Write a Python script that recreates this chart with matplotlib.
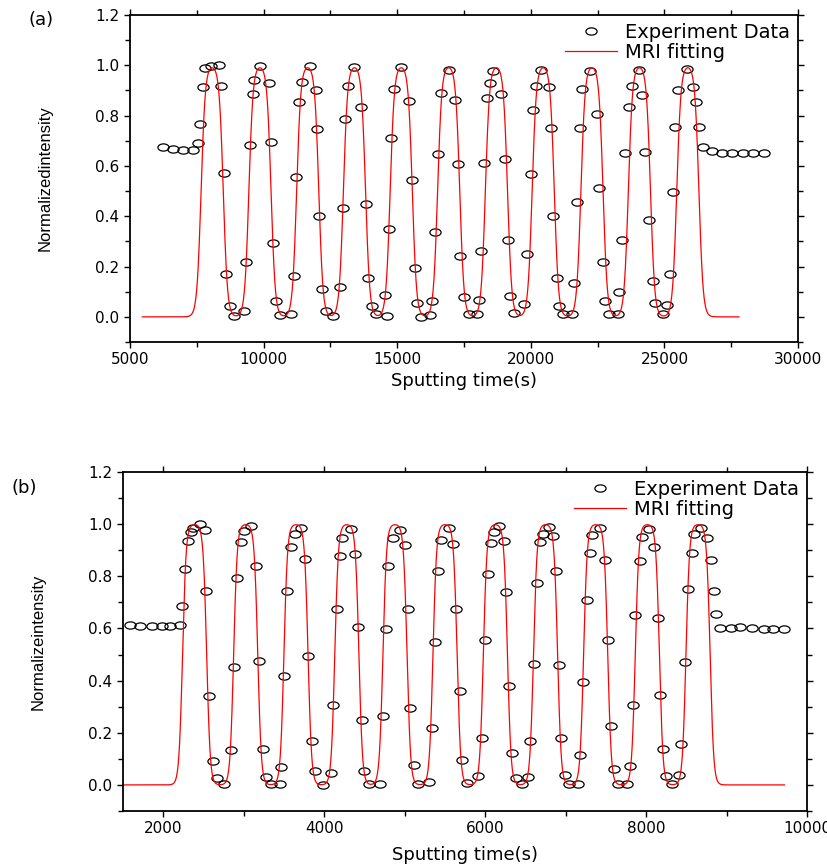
import numpy as np
import matplotlib
matplotlib.use("Agg")
import matplotlib.pyplot as plt
from matplotlib.markers import MarkerStyle
from matplotlib.transforms import Affine2D
from matplotlib.ticker import MultipleLocator, FormatStrFormatter

# (a) experiment data
a_time = [6250, 6625, 6975, 7375, 7550, 7638, 7738, 7813, 8038, 8325, 8413, 8500, 8600,
          8725, 8900, 9275, 9350, 9500, 9588, 9650, 9863, 10188, 10275, 10363, 10450, 10600,
          11025, 11125, 11213, 11313, 11450, 11725, 11963, 11988, 12075, 12175, 12350, 12613,
          12850, 12975, 13050, 13175, 13400, 13663, 13813, 13913, 14038, 14213, 14550, 14625,
          14688, 14775, 14875, 15125, 15425, 15550, 15650, 15738, 15900, 16213, 16313, 16413,
          16525, 16650, 16925, 17150, 17288, 17338, 17500, 17688, 17975, 18063, 18150, 18250,
          18350, 18475, 18600, 18875, 19025, 19150, 19225, 19375, 19750, 19850, 20000, 20088,
          20175, 20388, 20663, 20763, 20838, 20975, 21063, 21188, 21525, 21625, 21725, 21838,
          21913, 22200, 22475, 22563, 22700, 22788, 22925, 23250, 23313, 23425, 23538, 23688,
          23788, 24038, 24163, 24288, 24438, 24563, 24650, 24950, 25113, 25200, 25338, 25413,
          25513, 25838, 26075, 26163, 26288, 26425, 26763, 27150, 27538, 27938, 28313, 28713]
a_intensity = [0.675, 0.669, 0.665, 0.664, 0.693, 0.768, 0.915, 0.988, 0.997, 1.000, 0.916, 0.572, 0.170,
               0.045, 0.005, 0.023, 0.218, 0.684, 0.884, 0.942, 0.999, 0.931, 0.697, 0.293, 0.064, 0.009,
               0.011, 0.163, 0.556, 0.853, 0.935, 0.997, 0.902, 0.746, 0.400, 0.110, 0.025, 0.004,
               0.120, 0.434, 0.788, 0.919, 0.993, 0.833, 0.449, 0.154, 0.045, 0.012, 0.086, 0.005,
               0.349, 0.713, 0.906, 0.995, 0.858, 0.543, 0.194, 0.054, 0.000, 0.007, 0.064, 0.336,
               0.649, 0.890, 0.980, 0.861, 0.607, 0.240, 0.078, 0.013, 0.013, 0.066, 0.263, 0.610,
               0.869, 0.930, 0.976, 0.884, 0.629, 0.304, 0.084, 0.016, 0.052, 0.250, 0.566, 0.822,
               0.918, 0.983, 0.912, 0.749, 0.400, 0.154, 0.044, 0.013, 0.013, 0.133, 0.457, 0.749,
               0.907, 0.979, 0.807, 0.514, 0.220, 0.065, 0.013, 0.013, 0.098, 0.304, 0.651, 0.833,
               0.919, 0.983, 0.883, 0.657, 0.386, 0.142, 0.057, 0.012, 0.049, 0.170, 0.495, 0.754,
               0.903, 0.984, 0.915, 0.855, 0.756, 0.677, 0.660, 0.652, 0.652, 0.652, 0.652, 0.652]

# (a) MRI fit: layer centres, layer width, edge width, time range
a_peaks = [8075, 9863, 11650, 13400, 15150, 16925, 18713, 20463, 22288, 24063, 25875]
a_width, a_edge = 830, 78
a_range = (5460, 27790)

# (b) experiment data
b_time = [1585, 1710, 1855, 1979, 2083, 2203, 2228, 2270, 2311, 2340, 2373, 2452, 2519, 2535,
          2573, 2618, 2664, 2755, 2842, 2884, 2921, 2971, 3000, 3091, 3149, 3195, 3236, 3278,
          3336, 3456, 3469, 3498, 3539, 3590, 3634, 3709, 3763, 3805, 3846, 3884, 3988, 4091,
          4112, 4154, 4191, 4224, 4328, 4386, 4415, 4465, 4498, 4556, 4697, 4730, 4763, 4797,
          4851, 4947, 5004, 5037, 5066, 5112, 5170, 5299, 5336, 5377, 5415, 5456, 5547, 5605,
          5639, 5684, 5709, 5775, 5916, 5958, 5999, 6033, 6074, 6108, 6178, 6232, 6261, 6303,
          6340, 6386, 6461, 6531, 6564, 6610, 6651, 6684, 6717, 6788, 6842, 6875, 6913, 6946,
          6988, 7037, 7149, 7182, 7220, 7261, 7299, 7332, 7423, 7494, 7527, 7569, 7602, 7652,
          7764, 7797, 7840, 7865, 7921, 7950, 8037, 8100, 8150, 8179, 8212, 8245, 8328, 8411,
          8440, 8490, 8523, 8565, 8594, 8685, 8760, 8802, 8839, 8872, 8918, 9055, 9167, 9321,
          9462, 9582, 9719]
b_intensity = [0.613, 0.611, 0.610, 0.609, 0.610, 0.613, 0.685, 0.827, 0.934, 0.968, 0.986, 1.000, 0.977, 0.742,
               0.340, 0.092, 0.028, 0.003, 0.132, 0.454, 0.794, 0.932, 0.973, 0.992, 0.838, 0.476, 0.136, 0.031,
               0.003, 0.003, 0.070, 0.416, 0.742, 0.912, 0.964, 0.986, 0.868, 0.494, 0.170, 0.054, 0.000, 0.047,
               0.308, 0.676, 0.876, 0.948, 0.982, 0.886, 0.607, 0.248, 0.052, 0.003, 0.005, 0.266, 0.597, 0.838,
               0.948, 0.977, 0.919, 0.674, 0.295, 0.075, 0.005, 0.010, 0.217, 0.547, 0.820, 0.941, 0.986, 0.922,
               0.676, 0.359, 0.097, 0.008, 0.033, 0.180, 0.555, 0.809, 0.926, 0.971, 0.992, 0.935, 0.741, 0.378,
               0.121, 0.027, 0.005, 0.031, 0.168, 0.465, 0.773, 0.932, 0.964, 0.989, 0.953, 0.822, 0.459, 0.180,
               0.037, 0.005, 0.005, 0.116, 0.393, 0.708, 0.889, 0.958, 0.987, 0.861, 0.555, 0.226, 0.061, 0.005,
               0.005, 0.072, 0.306, 0.653, 0.858, 0.951, 0.982, 0.913, 0.642, 0.345, 0.136, 0.033, 0.005, 0.037,
               0.156, 0.471, 0.752, 0.889, 0.961, 0.987, 0.948, 0.861, 0.742, 0.654, 0.601, 0.601, 0.606, 0.601,
               0.598, 0.596, 0.598]

b_peaks = [2390, 3025, 3650, 4282, 4880, 5502, 6128, 6751, 7374, 8016, 8646]
b_width, b_edge = 300, 22
b_range = (1500, 9720)


def mri_curve(t, peaks, width, edge):
    # each layer = box of given width smeared by a logistic edge
    y = np.zeros_like(t)
    for c in peaks:
        y += 1 / (1 + np.exp(-(t - c + width / 2) / edge)) - 1 / (1 + np.exp(-(t - c - width / 2) / edge))
    return y


ring = MarkerStyle('o', fillstyle='none', transform=Affine2D().scale(1.55, 1.0))

fig = plt.figure(figsize=(8.27, 8.67), dpi=100)
ax_a = fig.add_axes([0.1572, 0.6055, 0.8078, 0.3772])
ax_b = fig.add_axes([0.1487, 0.0646, 0.8271, 0.3910])

panels = [
    (ax_a, a_time, a_intensity, a_peaks, a_width, a_edge, a_range, (5000, 30000), 5000, 2500,
     'Normalizedintensity', 31, 3),
    (ax_b, b_time, b_intensity, b_peaks, b_width, b_edge, b_range, (1500, 10000), 2000, 1000,
     'Normalizeintensity', 31, 7),
]

for ax, t, y, peaks, w, e, rng, xlim, major, minor, ylab, ypad, xpad in panels:
    tt = np.linspace(rng[0], rng[1], 3000)
    ax.plot(t, y, linestyle='none', marker=ring, markersize=5.2, markeredgecolor='black',
            markeredgewidth=0.9, label='Experiment Data')
    ax.plot(tt, mri_curve(tt, peaks, w, e), color='red', lw=0.9, label='MRI fitting')

    ax.set_xlim(*xlim)
    ax.set_ylim(-0.1, 1.2)
    ax.xaxis.set_major_locator(MultipleLocator(major))
    ax.xaxis.set_minor_locator(MultipleLocator(minor))
    ax.yaxis.set_major_locator(MultipleLocator(0.2))
    ax.yaxis.set_minor_locator(MultipleLocator(0.1))
    ax.yaxis.set_major_formatter(FormatStrFormatter('%.1f'))
    ax.tick_params(which='both', direction='out', top=True, right=True, width=1.0,
                   labelsize=11, pad=3.5)
    ax.tick_params(which='major', length=4)
    ax.tick_params(which='minor', length=3.5)
    for s in ax.spines.values():
        s.set_linewidth(1.3)

    ax.set_xlabel('Sputting time(s)', fontsize=13, labelpad=xpad)
    ax.set_ylabel(ylab, fontsize=12, family='Liberation Sans', labelpad=ypad)

    ax.legend(loc='upper right', bbox_to_anchor=(1.0, 1.0), frameon=False, fontsize=14,
              handlelength=2.7, handletextpad=0.4, labelspacing=0.05, borderaxespad=0.2,
              borderpad=0.2, markerfirst=True)

fig.text(0.05, 0.977, '(a)', fontsize=13, ha='center', va='center')
fig.text(0.029, 0.437, '(b)', fontsize=13, ha='center', va='center')

plt.savefig('out.png', dpi=100)
